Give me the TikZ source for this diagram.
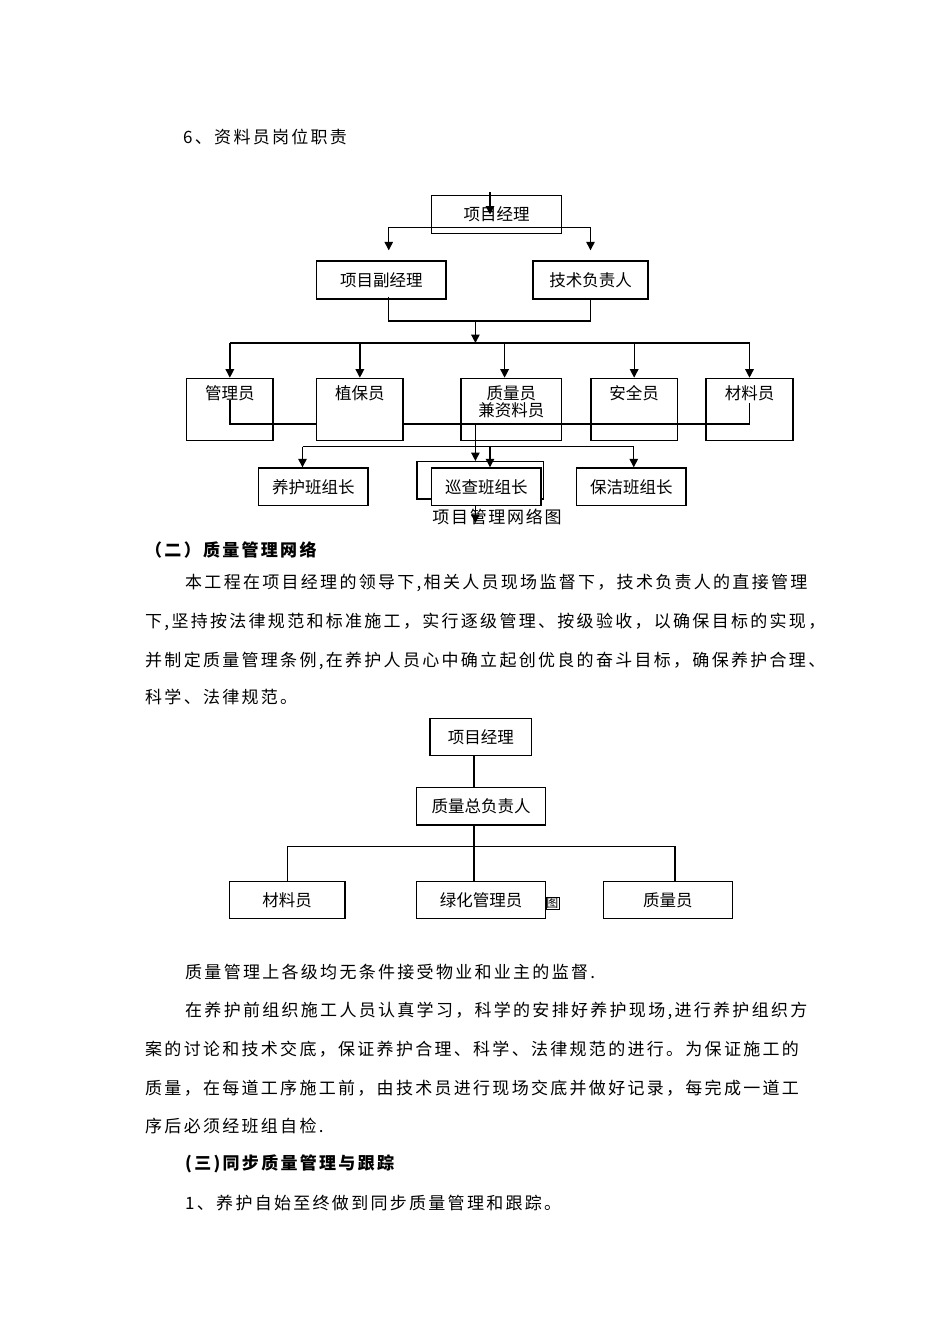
\documentclass[tikz,border=0pt]{standalone}
\usepackage{fontspec}
\newfontfamily\cjk{Noto Sans CJK SC}
\newfontfamily\cjkwide{Noto Sans CJK SC}[LetterSpace=13.5]
\newfontfamily\cjkcap{Noto Sans CJK SC}[LetterSpace=10]
\usepackage{xcolor}
\definecolor{cInk}{HTML}{000000}
\usepackage{tikz}
\usetikzlibrary{positioning,arrows.meta,calc}
\tikzset{
  node-box/.style={draw=cInk,line width=1.4pt,inner sep=0pt,align=center,
    font=\cjk\fontsize{16.5}{17}\selectfont},
  % tall boxes: label sits near the top edge
  node-tall/.style={node-box,anchor=north,text height=21.3pt,text depth=41pt},
  node-back/.style={draw=cInk,line width=1.4pt,inner sep=0pt},
  line-text/.style={anchor=west,inner sep=0pt,font=\cjkwide\fontsize{17}{19}\selectfont},
  line-head/.style={line-text,font=\cjkwide\bfseries\fontsize{17}{19}\selectfont},
  arrow/.style={-{Triangle[length=8.5pt,width=8.5pt]},line width=1.3pt,draw=cInk},
  link/.style={line width=1.3pt,draw=cInk},
}
\begin{document}
\begin{tikzpicture}[x=1pt,y=-1pt]
  \useasboundingbox (0,0) rectangle (950,1344);

  \node[line-text] (t-title) at (183,137) {6、资料员岗位职责};

  % 项目管理网络图
  \node[node-box,minimum width=130pt,minimum height=37.6pt]   (pm)   at (496.7,214.5) {项目经理};
  \node[node-box,minimum width=129.3pt,minimum height=38pt]   (dep)  at (381.35,280)  {项目副经理};
  \node[node-box,minimum width=115pt,minimum height=38pt]     (tech) at (590.5,280)   {技术负责人};
  \coordinate (pm-in)  at (490,192);
  \coordinate (pm-bar) at (490,227.7);
  \coordinate (dep-in) at ([xshift=7.4pt]dep.north);
  \draw[arrow] (pm-in) -- (pm-in |- pm.center);
  \draw[arrow] (pm-bar) -| ([yshift=10pt]dep-in);
  \draw[arrow] (pm-bar) -| ([yshift=10pt]tech.north);
  \coordinate (join) at (475.4,321);
  \coordinate (bus)  at (475.4,343);
  \draw[link] ([xshift=7.4pt,yshift=3pt]dep.south) |- (join) -| (tech.south);
  \draw[arrow] (join) -- (bus);

  \node[node-tall,minimum width=86.3pt]  (mgr)  at (229.85,377.7) {管理员};
  \node[node-tall,minimum width=100.9pt,text height=38.3pt,text depth=24pt] (qc) at (511.25,377.7) {质量员\\兼资料员};
  \node[node-tall,minimum width=86.7pt]  (safe) at (634.15,377.7) {安全员};
  \node[node-tall,minimum width=87pt]    (mat)  at (749.5,377.7)  {材料员};
  \coordinate (tie-mid) at (475.4,424);
  \draw[link] ([yshift=-22.3pt]mgr.north) |- (tie-mid) -| ([yshift=-25.3pt]mat.north);
  \node[node-tall,fill=white,minimum width=86.3pt] (plant) at (359.85,377.7) {植保员};
  \coordinate (qc-in) at (504.6,377.7);
  \draw[link] (mgr.north |- bus) -- (mat.north |- bus);
  \foreach \n in {mgr,plant,safe,mat}
    \draw[arrow] (\n.north |- bus) -- (\n.north);
  \draw[arrow] (qc-in |- bus) -- (qc-in);

  \node[node-box,minimum width=109.25pt,minimum height=37.7pt] (care) at (313.4,486.85) {养护班组长};
  \node[node-back,minimum width=126.75pt,minimum height=37.3pt] (patrol-bk) at (480.4,480.35) {};
  \node[node-box,fill=white,minimum width=109.1pt,minimum height=37.7pt] (patrol) at (486.25,486.85) {巡查班组长};
  \node[node-box,minimum width=109.3pt,minimum height=37.7pt] (clean) at (631.35,486.85) {保洁班组长};
  \draw[arrow] (tie-mid) -- (tie-mid |- patrol-bk.north);
  \coordinate (crew-bus)  at (490,446.7);
  \coordinate (care-in)   at ([xshift=-10.9pt]care.north);
  \coordinate (patrol-in) at ([xshift=3.75pt]patrol.north);
  \coordinate (clean-in)  at ([xshift=2.4pt]clean.north);
  \draw[link] (care-in |- crew-bus) -- (clean-in |- crew-bus);
  \foreach \n in {care,patrol,clean}
    \draw[arrow] (\n-in |- crew-bus) -- (\n-in);

  \node[inner sep=0pt,font=\cjkcap\fontsize{17}{19}\selectfont] (caption) at (497,516.7) {项目管理网络图};
  \coordinate (cap-tip) at (475.4,523);
  \draw[arrow] (cap-tip |- patrol.south) -- (cap-tip);

  % 正文
  \node[line-head] (t-h2) at (145,550) {（二）质量管理网络};
  \node[line-text] (t-p1) at (185,583) {本工程在项目经理的领导下,相关人员现场监督下，技术负责人的直接管理};
  \node[line-text] (t-p2) at (145,622) {下,坚持按法律规范和标准施工，实行逐级管理、按级验收，以确保目标的实现，};
  \node[line-text] (t-p3) at (145,661) {并制定质量管理条例,在养护人员心中确立起创优良的奋斗目标，确保养护合理、};
  \node[line-text] (t-p4) at (145,697) {科学、法律规范。};

  % 质量管理网络图
  \node[node-box,minimum width=101.7pt,minimum height=37.4pt] (pm2)   at (480.85,737)  {项目经理};
  \node[node-box,minimum width=129pt,minimum height=37.7pt]   (qhead) at (481.2,806.15) {质量总负责人};
  \node[node-box,minimum width=115.7pt,minimum height=36.6pt] (mat2)  at (287.15,900)  {材料员};
  \node[node-box,minimum width=129pt,minimum height=36.6pt]   (green) at (481.2,900)   {绿化管理员};
  \node[node-box,minimum width=129pt,minimum height=36.6pt]   (qual)  at (667.8,900)   {质量员};
  \coordinate (spine)   at (474,846.7);
  \coordinate (qual-in) at ([xshift=7.2pt]qual.north);
  \draw[link] (spine |- pm2.south) -- (spine |- qhead.north);
  \draw[link] (spine |- qhead.south) -- (spine |- green.north);
  \draw[link] (mat2.north) |- (spine) -| (qual-in);
  \node[draw=cInk,line width=0.6pt,inner sep=0.5pt,font=\cjk\fontsize{12}{12}\selectfont] (fig-tag) at (552.35,903.35) {图};

  \node[line-text] (t-q1) at (185,972)  {质量管理上各级均无条件接受物业和业主的监督.};
  \node[line-text] (t-q2) at (185,1011) {在养护前组织施工人员认真学习，科学的安排好养护现场,进行养护组织方};
  \node[line-text] (t-q3) at (145,1049) {案的讨论和技术交底，保证养护合理、科学、法律规范的进行。为保证施工的};
  \node[line-text] (t-q4) at (145,1088) {质量，在每道工序施工前，由技术员进行现场交底并做好记录，每完成一道工};
  \node[line-text] (t-q5) at (145,1126) {序后必须经班组自检.};
  \node[line-head] (t-h3) at (185,1164) {(三)同步质量管理与跟踪};
  \node[line-text] (t-q6) at (185,1203) {1、养护自始至终做到同步质量管理和跟踪。};
\end{tikzpicture}
\end{document}
